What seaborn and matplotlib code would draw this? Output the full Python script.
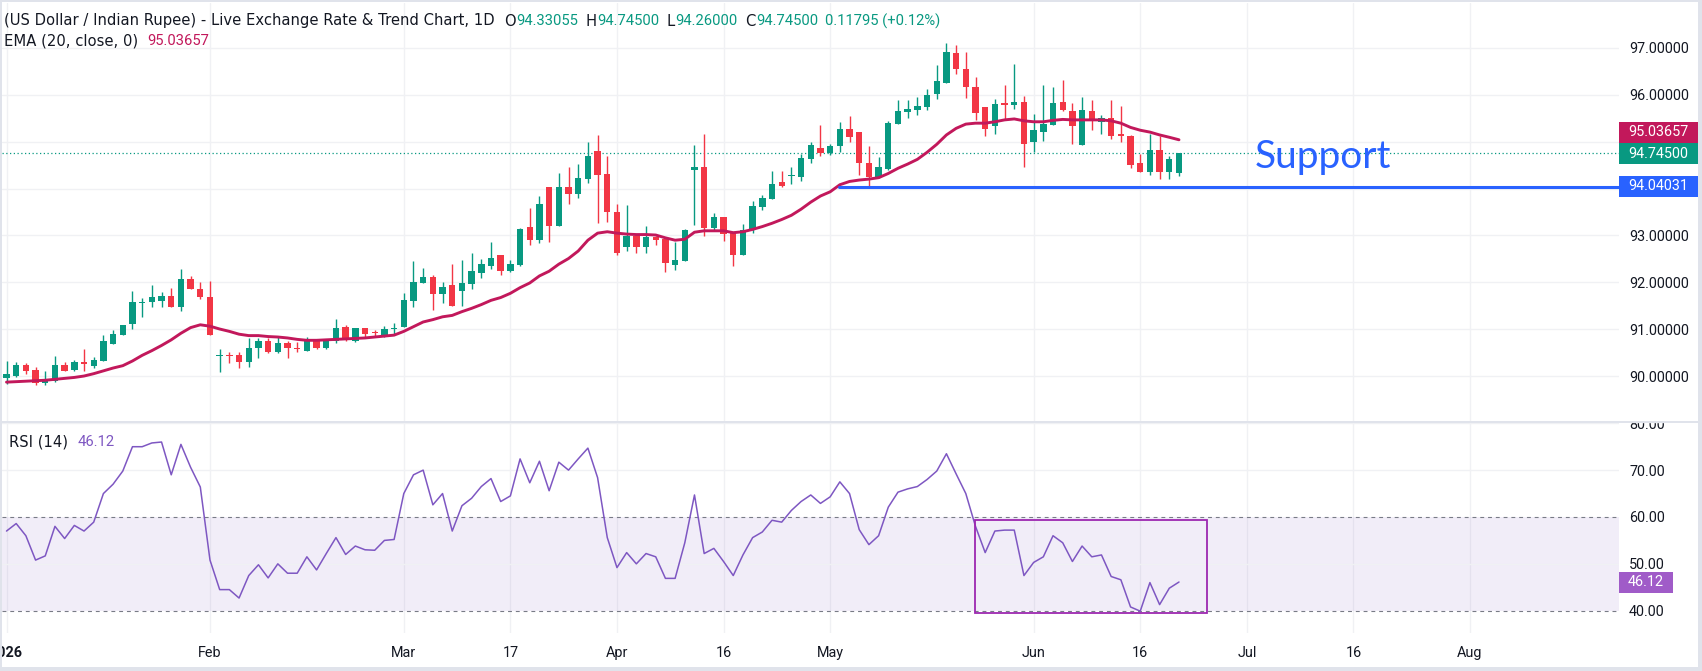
import numpy as np
import pandas as pd
import seaborn as sns
import matplotlib.pyplot as plt
from matplotlib.patches import Rectangle

# USD/INR daily candles, weekdays from 2 Jan 2026 to 22 Jun 2026
opens = [89.96, 90.00, 90.25, 90.13, 89.87, 89.91, 90.25, 90.13, 90.31, 90.23,
         90.34, 90.70, 90.89, 91.11, 91.57, 91.58, 91.60, 91.72, 91.47, 92.08,
         91.87, 91.70, 90.44, 90.44, 90.45, 90.30, 90.60, 90.76, 90.53, 90.72,
         90.60, 90.55, 90.79, 90.60, 90.76, 91.05, 90.76, 91.03, 90.93, 90.88,
         91.01, 91.06, 91.60, 91.99, 92.11, 91.76, 91.94, 91.82, 91.97, 92.21,
         92.35, 92.58, 92.25, 92.37, 93.18, 92.91, 94.04, 93.21, 94.04, 93.89,
         94.21, 94.80, 94.31, 93.50, 92.76, 92.99, 92.76, 92.97, 92.93, 92.37,
         92.46, 94.40, 94.46, 93.17, 93.39, 93.06, 92.59, 93.12, 93.61, 93.78,
         94.14, 94.26, 94.24, 94.63, 94.86, 94.76, 94.90, 95.27, 95.20, 94.54,
         94.24, 94.41, 95.38, 95.63, 95.68, 95.74, 96.02, 96.25, 96.88, 96.54,
         96.16, 95.73, 95.34, 95.82, 95.77, 95.84, 95.00, 95.20, 95.36, 95.84,
         95.65, 94.93, 95.65, 95.42, 95.50, 95.16, 95.12, 94.54, 94.36, 94.82,
         94.36, 94.33055]
highs = [90.33, 90.31, 90.28, 90.20, 90.11, 90.44, 90.31, 90.35, 90.59, 90.42,
         90.89, 90.99, 91.10, 91.82, 91.68, 91.95, 91.80, 91.89, 92.29, 92.14,
         92.00, 92.04, 90.58, 90.53, 90.53, 90.82, 90.82, 90.82, 90.84, 90.76,
         90.73, 90.84, 90.80, 90.80, 91.22, 91.09, 91.04, 91.03, 90.98, 91.07,
         91.13, 91.77, 92.45, 92.30, 92.17, 92.01, 92.39, 92.48, 92.62, 92.50,
         92.86, 92.58, 92.48, 93.16, 93.58, 93.84, 94.04, 94.33, 94.45, 94.52,
         94.99, 95.14, 94.69, 93.68, 93.65, 93.00, 93.20, 92.98, 92.94, 92.86,
         93.13, 94.93, 95.16, 93.48, 93.40, 93.07, 93.24, 93.73, 93.86, 94.37,
         94.37, 94.46, 94.73, 94.99, 95.35, 94.94, 95.42, 95.54, 95.20, 94.90,
         94.67, 95.44, 95.88, 95.88, 95.95, 96.12, 96.62, 97.10, 97.05, 96.90,
         96.37, 95.74, 95.90, 96.20, 96.65, 95.97, 95.59, 96.20, 96.16, 96.31,
         95.81, 95.95, 95.88, 95.56, 95.88, 95.75, 95.13, 94.73, 95.16, 95.12,
         94.69, 94.745]
lows = [89.85, 89.99, 90.06, 89.82, 89.81, 89.89, 90.11, 90.12, 90.11, 90.19,
        90.33, 90.69, 90.88, 91.02, 91.26, 91.47, 91.48, 91.47, 91.40, 91.86,
        91.64, 90.89, 90.09, 90.29, 90.19, 90.21, 90.40, 90.49, 90.50, 90.39,
        90.53, 90.54, 90.59, 90.59, 90.72, 90.76, 90.74, 90.84, 90.86, 90.84,
        90.91, 91.06, 91.48, 91.98, 91.41, 91.57, 91.50, 91.50, 91.87, 92.10,
        92.29, 92.16, 92.23, 92.35, 92.80, 92.84, 92.87, 93.21, 93.67, 93.80,
        94.12, 93.27, 93.29, 92.59, 92.66, 92.62, 92.63, 92.80, 92.23, 92.27,
        92.45, 93.22, 92.99, 93.10, 92.88, 92.35, 92.58, 93.06, 93.55, 93.77,
        94.04, 94.09, 94.17, 94.54, 94.70, 94.72, 94.78, 94.99, 94.29, 94.04,
        94.23, 94.40, 95.37, 95.49, 95.56, 95.68, 95.91, 96.24, 96.44, 95.93,
        95.46, 95.12, 95.15, 95.46, 95.70, 94.46, 94.78, 95.01, 95.35, 95.64,
        94.95, 94.92, 95.24, 95.15, 95.06, 95.00, 94.44, 94.35, 94.29, 94.21,
        94.21, 94.26]
closes = [90.06, 90.25, 90.12, 89.87, 89.95, 90.25, 90.12, 90.31, 90.26, 90.35,
          90.76, 90.91, 91.10, 91.59, 91.59, 91.70, 91.72, 91.47, 92.08, 91.86,
          91.70, 90.89, 90.45, 90.43, 90.30, 90.60, 90.76, 90.53, 90.72, 90.60,
          90.59, 90.77, 90.60, 90.77, 91.03, 90.77, 91.03, 90.91, 90.92, 91.01,
          91.02, 91.62, 92.01, 92.11, 91.76, 91.90, 91.50, 91.99, 92.24, 92.39,
          92.52, 92.25, 92.39, 93.13, 92.91, 93.67, 93.21, 94.03, 93.89, 94.22,
          94.70, 94.29, 93.49, 92.63, 92.99, 92.76, 92.97, 92.91, 92.42, 92.48,
          93.12, 94.46, 93.17, 93.39, 93.04, 92.59, 93.12, 93.63, 93.80, 94.10,
          94.05, 94.29, 94.65, 94.92, 94.76, 94.90, 95.27, 95.10, 94.54, 94.24,
          94.46, 95.39, 95.65, 95.69, 95.76, 95.99, 96.29, 96.90, 96.55, 96.15,
          95.61, 95.27, 95.79, 95.78, 95.84, 94.95, 95.24, 95.37, 95.82, 95.67,
          95.32, 95.67, 95.44, 95.50, 95.12, 95.12, 94.49, 94.36, 94.82, 94.36,
          94.63, 94.745]
ema20 = [89.88, 89.89, 89.90, 89.91, 89.92, 89.94, 89.96, 89.98, 90.01, 90.06,
         90.12, 90.18, 90.23, 90.33, 90.45, 90.55, 90.66, 90.78, 90.92, 91.04,
         91.10, 91.07, 91.01, 90.96, 90.90, 90.87, 90.87, 90.85, 90.84, 90.82,
         90.79, 90.77, 90.77, 90.78, 90.79, 90.80, 90.81, 90.82, 90.84, 90.86,
         90.88, 90.96, 91.06, 91.16, 91.21, 91.27, 91.30, 91.38, 91.45, 91.53,
         91.62, 91.68, 91.77, 91.89, 91.99, 92.14, 92.24, 92.39, 92.51, 92.67,
         92.90, 93.05, 93.08, 93.05, 93.03, 93.02, 93.02, 93.01, 92.95, 92.90,
         92.92, 93.07, 93.10, 93.10, 93.10, 93.06, 93.08, 93.13, 93.19, 93.26,
         93.34, 93.43, 93.56, 93.71, 93.84, 93.93, 94.08, 94.15, 94.18, 94.20,
         94.23, 94.32, 94.43, 94.52, 94.62, 94.77, 94.94, 95.14, 95.28, 95.37,
         95.39, 95.39, 95.42, 95.46, 95.48, 95.44, 95.42, 95.42, 95.45, 95.47,
         95.46, 95.46, 95.46, 95.46, 95.44, 95.39, 95.30, 95.24, 95.20, 95.14,
         95.09, 95.03657]
rsi14 = [57.0, 58.6, 56.0, 50.8, 51.7, 58.0, 55.4, 58.2, 57.0, 58.9,
         65.0, 67.0, 69.8, 75.0, 75.0, 75.8, 76.0, 69.0, 75.5, 70.6,
         66.4, 50.8, 44.5, 44.5, 42.7, 47.5, 49.8, 47.0, 50.0, 48.0,
         48.0, 51.5, 48.7, 52.2, 55.6, 52.0, 53.8, 53.0, 52.9, 55.0,
         55.2, 65.0, 69.0, 70.0, 62.6, 65.0, 57.0, 62.4, 64.0, 66.5,
         68.2, 63.3, 64.5, 72.4, 67.3, 71.9, 65.6, 71.7, 70.0, 72.4,
         74.7, 68.4, 55.6, 49.2, 52.4, 50.0, 52.2, 51.5, 46.9, 46.9,
         54.5, 64.7, 52.2, 53.3, 50.5, 47.5, 51.9, 55.6, 56.8, 59.3,
         58.9, 61.4, 63.3, 64.7, 62.9, 64.3, 67.5, 65.0, 57.3, 54.1,
         56.0, 62.1, 65.3, 66.0, 66.5, 68.0, 69.8, 73.5, 69.2, 65.0,
         58.0, 52.4, 57.0, 57.2, 57.2, 47.5, 50.3, 51.5, 56.0, 54.5,
         50.5, 53.8, 51.5, 51.9, 47.3, 46.6, 40.8, 39.9, 46.0, 41.3,
         44.8, 46.12]

tick_dates = ["2026-01-02", "2026-02-02", "2026-03-02", "2026-03-17", "2026-04-01", "2026-04-16",
              "2026-05-01", "2026-06-01", "2026-06-16", "2026-07-01", "2026-07-16", "2026-08-03"]
tick_labels = ["2026", "Feb", "Mar", "17", "Apr", "16", "May", "Jun", "16", "Jul", "16", "Aug"]
price_ticks = [90, 91, 92, 93, 94, 95, 96, 97]
rsi_ticks = [40, 50, 60, 70, 80]

last_close = 94.745
ema_last = 95.03657
support = 94.04031

sns.set_theme(style="white")
plt.rcParams["font.family"] = ["Roboto", "DejaVu Sans"]

W, H = 1702, 671
UP, DOWN = "#089981", "#F23645"
EMA_C, RSI_C, BLUE = "#C2185B", "#7E57C2", "#2962FF"
TXT, GRID, FRAME = "#131722", "#F0F1F4", "#E0E3EB"

days = pd.bdate_range("2026-01-02", "2026-09-30")
pos = {d: i for i, d in enumerate(days)}
tick_pos = [pos[pd.Timestamp(d)] for d in tick_dates]

df = pd.DataFrame({"open": opens, "high": highs, "low": lows, "close": closes,
                   "ema": ema20, "rsi": rsi14})
df["i"] = np.arange(len(df))
df["date"] = days[:len(df)]


def px(x0, y0, x1, y1):
    # pixel box (from top-left) -> figure fraction rect
    return [x0 / W, 1 - y1 / H, (x1 - x0) / W, (y1 - y0) / H]


fig = plt.figure(figsize=(W / 100, H / 100), dpi=100)
fig.patch.set_facecolor("white")
ax_p = fig.add_axes(px(2, 3, 1619, 421))
ax_r = fig.add_axes(px(2, 423, 1619, 633))

xlim = ((2 - 6.5) / 9.69, (1619 - 6.5) / 9.69)
for ax in (ax_p, ax_r):
    ax.set_xlim(*xlim)
    for s in ax.spines.values():
        s.set_visible(False)
    for p in tick_pos:
        ax.axvline(p, color=GRID, lw=1, zorder=0)
ax_p.set_ylim(89.053, 97.947)
ax_r.set_ylim(35.24, 80.06)

# price pane
for v in price_ticks:
    ax_p.axhline(v, color=GRID, lw=1, zorder=0)
up = df["close"] >= df["open"]
cols = np.where(up, UP, DOWN)
body_lo = np.minimum(df["open"], df["close"])
body_h = np.maximum((df["close"] - df["open"]).abs(), 0.02)
ax_p.vlines(df["i"], df["low"], df["high"], colors=cols, lw=1, zorder=2)
ax_p.bar(df["i"], body_h, bottom=body_lo, width=0.66, color=cols, lw=0, zorder=3)
sns.lineplot(data=df, x="i", y="ema", ax=ax_p, color=EMA_C, lw=2.1, zorder=4)
ax_p.axhline(last_close, color=UP, lw=0.9, ls=(0, (1, 2)), zorder=1)
ax_p.plot([85.9, xlim[1]], [support, support], color=BLUE, lw=2.2, zorder=5)
ax_p.text(135.9, 94.44, "Support", ha="center", va="baseline", fontsize=28,
          color=BLUE, family="Lato")

# rsi pane
ax_r.axhspan(40, 60, color=RSI_C, alpha=0.1, lw=0, zorder=0)
for v in (50, 70, 80):
    ax_r.axhline(v, color=GRID, lw=1, zorder=0)
for v in (40, 60):
    ax_r.axhline(v, color="#787B86", lw=0.8, ls=(0, (3.5, 3.5)), zorder=1)
sns.lineplot(data=df, x="i", y="rsi", ax=ax_r, color=RSI_C, lw=1.1, zorder=3)
ax_r.add_patch(Rectangle((99.9, 39.45), 24.0, 19.9, fill=False, ec="#9C27B0", lw=1.3, zorder=4))

# axes ticks / labels (94 and 95 sit under the price tags, as in the original)
hidden = {94, 95}
ax_p.set_xticks([])
ax_r.set_xticks(tick_pos, tick_labels)
ax_r.get_xticklabels()[0].set_fontweight("bold")
ax_r.tick_params(axis="x", length=0, pad=9.4, labelsize=10.4, colors=TXT)
ax_p.yaxis.tick_right()
ax_p.set_yticks(price_ticks, ["" if v in hidden else f"{v:.5f}" for v in price_ticks])
ax_r.yaxis.tick_right()
ax_r.set_yticks(rsi_ticks, [f"{v:.2f}" for v in rsi_ticks])
for ax in (ax_p, ax_r):
    ax.tick_params(axis="y", length=0, pad=7.2, labelsize=10.4, colors=TXT)
    ax.set_xlabel("")
    ax.set_ylabel("")

# cover the top half of the RSI "80.00" label, draw pane separator and frame
fig.add_artist(Rectangle((1619 / W, 1 - 421.5 / H), 83 / W, 20 / H,
                         transform=fig.transFigure, color="white", zorder=5))
for x0, y0, x1, y1 in [(0, 421, 1702, 423), (0, 0, 2, 671), (1698, 0, 1702, 671),
                       (0, 0, 1702, 1.5), (0, 667, 1702, 671)]:
    r = px(x0, y0, x1, y1)
    fig.add_artist(Rectangle((r[0], r[1]), r[2], r[3], transform=fig.transFigure,
                             color=FRAME, lw=0, zorder=6))


def tag(yc, text, color, x1=1698):
    r = px(1619, yc - 10.5, x1, yc + 10.5)
    fig.add_artist(Rectangle((r[0], r[1]), r[2], r[3], transform=fig.transFigure,
                             color=color, lw=0, zorder=7))
    fig.text((1619 + x1) / 2 / W, 1 - yc / H, text, ha="center", va="center",
             color="white", fontsize=10.4, zorder=8)


tag(132.3, f"{ema_last:.5f}", EMA_C)
tag(153.7, f"{last_close:.5f}", UP)
tag(186.3, f"{support:.5f}", BLUE)
tag(582.2, f"{rsi14[-1]:.2f}", "#A05BC8", x1=1673)

# legend lines in the top-left corners
fig.canvas.draw()
rend = fig.canvas.get_renderer()


def legend(x, y, parts, size=10.6):
    for s, c, gap, fam in parts:
        t = fig.text(x / W, 1 - y / H, s, color=c, fontsize=size, ha="left", va="center",
                     family=fam, zorder=8)
        x += t.get_window_extent(renderer=rend).width + gap


DV, RB = "DejaVu Sans", "Roboto"
o, h, l, c = opens[-1], highs[-1], lows[-1], closes[-1]
legend(4, 21, [("(US Dollar / Indian Rupee) - Live Exchange Rate & Trend Chart, 1D", TXT, 9, DV),
               ("O", TXT, 1, DV), (f"{o:.5f}", UP, 7, RB), ("H", TXT, 1, DV), (f"{h:.5f}", UP, 7, RB),
               ("L", TXT, 1, DV), (f"{l:.5f}", UP, 7, RB), ("C", TXT, 1, DV), (f"{c:.5f}", UP, 7, RB),
               ("0.11795 (+0.12%)", UP, 0, RB)])
legend(4, 41, [("EMA (20, close, 0)", TXT, 9, DV), (f"{ema_last:.5f}", EMA_C, 0, RB)])
legend(9, 442, [("RSI (14)", TXT, 10, DV), (f"{rsi14[-1]:.2f}", RSI_C, 0, RB)])

fig.savefig("out.png", dpi=100)
